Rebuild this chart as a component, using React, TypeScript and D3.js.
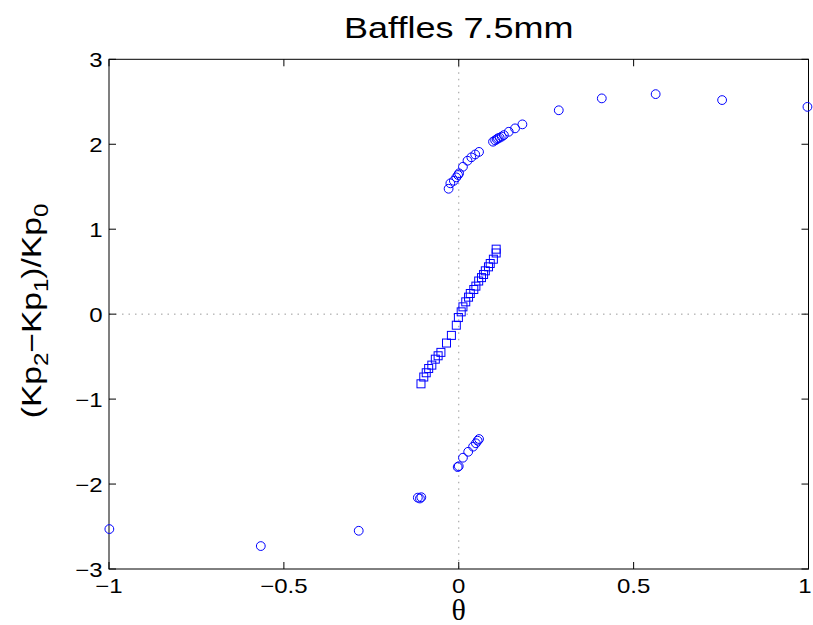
import React from "react";
import * as d3 from "d3";

const upperTheta = [-0.029, -0.024, -0.014, -0.007, -0.002, 0.001, 0.012, 0.025, 0.036, 0.047, 0.058, 0.098, 0.104, 0.109, 0.112, 0.117, 0.123, 0.129, 0.143, 0.161, 0.182, 0.286, 0.409, 0.563, 0.753, 0.997];
const upperValue = [1.476, 1.54, 1.57, 1.61, 1.638, 1.658, 1.735, 1.806, 1.846, 1.88, 1.91, 2.03, 2.046, 2.058, 2.07, 2.077, 2.09, 2.108, 2.147, 2.187, 2.234, 2.4, 2.54, 2.59, 2.52, 2.44];

const lowerTheta = [-0.999, -0.566, -0.286, -0.117, -0.111, -0.107, -0.003, 0.0, 0.012, 0.027, 0.041, 0.049, 0.054, 0.058];
const lowerValue = [-2.53, -2.73, -2.55, -2.16, -2.17, -2.155, -1.80, -1.79, -1.69, -1.62, -1.56, -1.52, -1.49, -1.47];

const squareTheta = [0.107, 0.107, 0.099, 0.090, 0.085, 0.076, 0.071, 0.065, 0.057, 0.049, 0.043, 0.033, 0.028, 0.020, 0.012, 0.007, -0.001, -0.007, -0.021, -0.035, -0.051, -0.059, -0.067, -0.077, -0.086, -0.093, -0.1, -0.108];
const squareValue = [0.765, 0.72, 0.647, 0.596, 0.557, 0.51, 0.467, 0.43, 0.39, 0.33, 0.29, 0.243, 0.2, 0.145, 0.086, 0.027, -0.04, -0.13, -0.25, -0.34, -0.45, -0.49, -0.53, -0.60, -0.64, -0.69, -0.74, -0.82];

const xTicks = [-1, -0.5, 0, 0.5, 1];
const yTicks = [-3, -2, -1, 0, 1, 2, 3];

const titleText = "Baffles 7.5mm";

const W = 813;
const H = 625;
const L = 109;
const R = 808.5;
const T = 59.3;
const B = 569;
const SX = 1.2;
const FONT = "'Liberation Sans', Arial, Helvetica, sans-serif";

function fmt(v: number): string {
  const s = String(v);
  return v < 0 ? "\u2212" + s.slice(1) : s;
}

export default function App() {
  const x = d3.scaleLinear().domain([-1, 1]).range([L, R]);
  const y = d3.scaleLinear().domain([-3, 3]).range([B, T]);
  const tickLen = 7;
  const blue = "#0000ff";
  const circles = [
    ...upperTheta.map((t, i) => [t, upperValue[i]]),
    ...lowerTheta.map((t, i) => [t, lowerValue[i]]),
  ];
  const squares = squareTheta.map((t, i) => [t, squareValue[i]]);
  const sq = 8;

  return (
    <svg
      width={W}
      height={H}
      style={{ position: "absolute", left: 0, top: 0, background: "#fff" }}
      fontFamily={FONT}
    >
      <rect x={0} y={0} width={W} height={H} fill="#fff" />
      {/* zero lines */}
      <line x1={x(0)} x2={x(0)} y1={T} y2={B} stroke="#9a9a9a" strokeWidth={1} strokeDasharray="1.5 5" />
      <line x1={L} x2={R} y1={y(0)} y2={y(0)} stroke="#9a9a9a" strokeWidth={1} strokeDasharray="1.5 5" />
      {/* frame */}
      <rect x={L} y={T} width={R - L} height={B - T} fill="none" stroke="#000" strokeWidth={1} />
      {/* ticks */}
      {xTicks.map((t) => (
        <g key={"xt" + t}>
          <line x1={x(t)} x2={x(t)} y1={B} y2={B - tickLen} stroke="#000" />
          <line x1={x(t)} x2={x(t)} y1={T} y2={T + tickLen} stroke="#000" />
          <g transform={`translate(${Math.min(x(t), 805)},593) scale(${SX},1)`}>
            <text textAnchor="middle" fontSize={20} fill="#000">{fmt(t)}</text>
          </g>
        </g>
      ))}
      {yTicks.map((t) => (
        <g key={"yt" + t}>
          <line x1={L} x2={L + tickLen} y1={y(t)} y2={y(t)} stroke="#000" />
          <line x1={R} x2={R - tickLen} y1={y(t)} y2={y(t)} stroke="#000" />
          <g transform={`translate(102.5,${y(t) + 7.5}) scale(${SX},1)`}>
            <text textAnchor="end" fontSize={20} fill="#000">{fmt(t)}</text>
          </g>
        </g>
      ))}
      {/* data */}
      {squares.map((d, i) => (
        <rect
          key={"s" + i}
          x={x(d[0]) - sq / 2}
          y={y(d[1]) - sq / 2}
          width={sq}
          height={sq}
          fill="none"
          stroke={blue}
          strokeWidth={1}
        />
      ))}
      {circles.map((d, i) => (
        <circle key={"c" + i} cx={x(d[0])} cy={y(d[1])} r={4.4} fill="none" stroke={blue} strokeWidth={1} />
      ))}
      {/* title */}
      <g transform={`translate(${(L + R) / 2},38) scale(${SX},1)`}>
        <text textAnchor="middle" fontSize={30} fill="#000">{titleText}</text>
      </g>
      {/* x label */}
      <text
        x={(L + R) / 2}
        y={620}
        textAnchor="middle"
        fontSize={30}
        fontFamily="'Liberation Serif', 'Times New Roman', serif"
        fill="#000"
      >
        θ
      </text>
      {/* y label */}
      <g transform={`translate(41,311) rotate(-90) scale(${SX},1)`}>
        <text textAnchor="middle" fontSize={28} fill="#000">
          <tspan>(Kp</tspan>
          <tspan fontSize={20} dy={7}>2</tspan>
          <tspan dy={-7}>{"\u2212Kp"}</tspan>
          <tspan fontSize={20} dy={7}>1</tspan>
          <tspan dy={-7}>)/Kp</tspan>
          <tspan fontSize={20} dy={7}>0</tspan>
        </text>
      </g>
    </svg>
  );
}
